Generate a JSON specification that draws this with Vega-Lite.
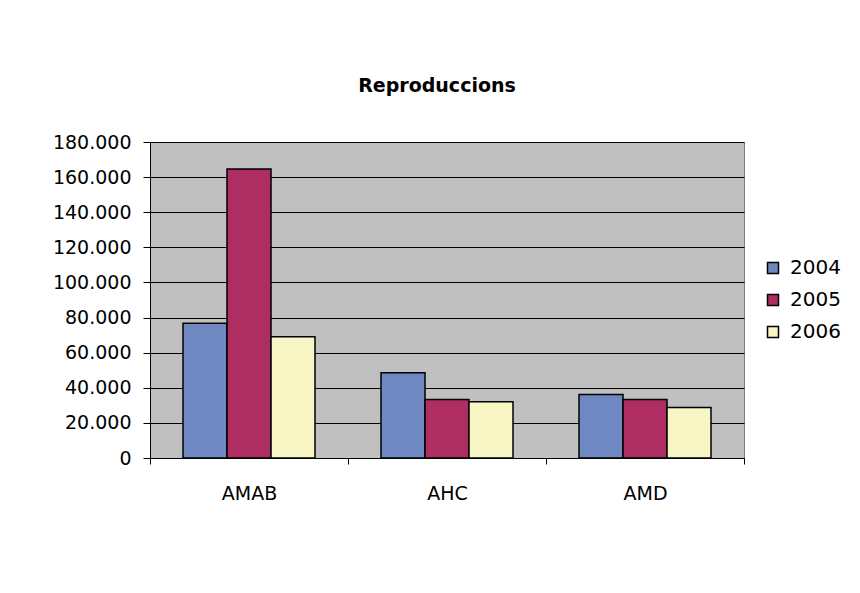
{
  "$schema": "https://vega.github.io/schema/vega-lite/v6.json",
  "width": 594,
  "height": 316,
  "autosize": {"type": "none"},
  "padding": {"left": 150, "top": 142, "right": 116, "bottom": 135},
  "background": "white",
  "config": {
    "locale": {"number": {"decimal": ",", "thousands": ".", "grouping": [3], "currency": ["", " €"]}},
    "view": {"fill": "#C0C0C0", "stroke": "#808080", "strokeWidth": 1},
    "font": "DejaVu Sans"
  },
  "title": {"text": "Reproduccions", "fontSize": 19, "fontWeight": "bold", "font": "DejaVu Sans", "color": "black", "anchor": "middle", "offset": 37, "dx": -10},
  "data": {"values": [
    {"cat": "AMAB", "year": "2004", "value": 76700},
    {"cat": "AMAB", "year": "2005", "value": 164600},
    {"cat": "AMAB", "year": "2006", "value": 69100},
    {"cat": "AHC", "year": "2004", "value": 48600},
    {"cat": "AHC", "year": "2005", "value": 33300},
    {"cat": "AHC", "year": "2006", "value": 32000},
    {"cat": "AMD", "year": "2004", "value": 36200},
    {"cat": "AMD", "year": "2005", "value": 33300},
    {"cat": "AMD", "year": "2006", "value": 28700}
  ]},
  "mark": {"type": "bar", "stroke": "black", "strokeWidth": 1.5},
  "encoding": {
    "x": {"field": "cat", "type": "nominal", "sort": ["AMAB", "AHC", "AMD"],
      "scale": {"paddingInner": 0, "paddingOuter": 0},
      "axis": {"title": null, "labelAngle": 0, "labelFontSize": 19, "labelColor": "black", "labelPadding": 20,
        "tickBand": "extent", "tickSize": 6, "tickColor": "black", "domainColor": "black", "grid": false}},
    "xOffset": {"field": "year", "type": "nominal", "scale": {"paddingInner": 0, "paddingOuter": 0.75}},
    "y": {"field": "value", "type": "quantitative",
      "scale": {"domain": [0, 180000], "nice": false},
      "axis": {"title": null, "values": [0, 20000, 40000, 60000, 80000, 100000, 120000, 140000, 160000, 180000],
        "format": ",d", "labelFontSize": 19, "labelColor": "black", "labelPadding": 12, "tickSize": 7,
        "tickColor": "black", "domainColor": "black", "gridColor": "black", "gridOpacity": 1, "gridWidth": 1}},
    "color": {"field": "year", "type": "nominal",
      "scale": {"domain": ["2004", "2005", "2006"], "range": ["#7088C1", "#AF2E62", "#F7F5C4"]},
      "legend": {"title": null, "orient": "none", "legendX": 613, "legendY": 116, "symbolType": "square",
        "symbolSize": 121, "symbolStrokeColor": "black", "symbolStrokeWidth": 1.5, "labelFontSize": 20,
        "labelColor": "black", "rowPadding": 12, "labelOffset": 7}}
  }
}
